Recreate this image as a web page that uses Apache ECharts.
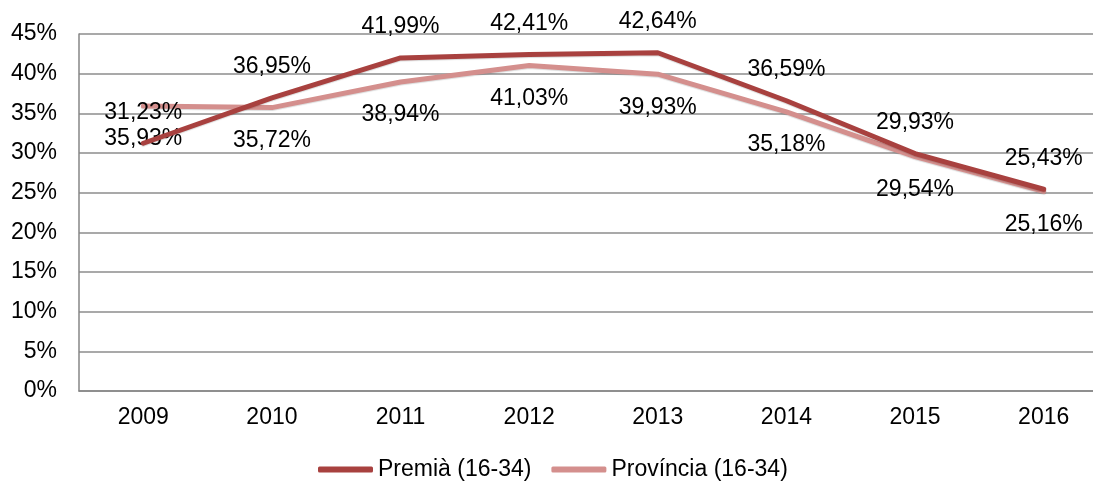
<!DOCTYPE html>
<html>
<head>
<meta charset="utf-8">
<script src="https://cdn.jsdelivr.net/npm/echarts@6/dist/echarts.min.js"></script>
<style>
  html, body { margin: 0; padding: 0; background: #fff; }
  #chart { width: 1093px; height: 481px; }
</style>
</head>
<body>
<div id="chart"></div>
<script>
// anys
const years = ['2009', '2010', '2011', '2012', '2013', '2014', '2015', '2016']
// taxa (%) per sèrie
const premia = [31.23, 36.95, 41.99, 42.41, 42.64, 36.59, 29.93, 25.43]
const provincia = [35.93, 35.72, 38.94, 41.03, 39.93, 35.18, 29.54, 25.16]
const seriesNames = ['Premià (16-34)', 'Província (16-34)']

const fontFamily = '"Liberation Sans", Arial, sans-serif'
const fs = 23
const fmt = v => v.toFixed(2).replace('.', ',') + '%'

const chart = echarts.init(document.getElementById('chart'))

const lineSeries = (name, data, color, pos, dist, z) => ({
  name,
  type: 'line',
  data,
  z,
  symbol: 'circle',
  symbolSize: 1,
  itemStyle: { color },
  lineStyle: {
    color,
    width: 5,
    cap: 'round',
    join: 'round',
    shadowColor: 'rgba(0,0,0,0.15)',
    shadowOffsetY: 1,
    shadowBlur: 1
  },
  label: {
    show: true,
    position: pos,
    distance: dist,
    color: '#000',
    fontSize: fs,
    fontFamily,
    formatter: p => fmt(p.value)
  },
  labelLayout: { hideOverlap: false },
  emphasis: { disabled: true }
})

chart.setOption({
  animation: false,
  grid: { left: 79, top: 34, width: 1029, bottom: 90, outerBoundsMode: 'none', containLabel: false },
  legend: {
    bottom: 0,
    left: 318,
    padding: 0,
    itemWidth: 55,
    itemHeight: 6,
    itemGap: 20,
    icon: 'roundRect',
    textStyle: { color: '#000', fontSize: fs, fontFamily },
    data: seriesNames
  },
  xAxis: {
    type: 'category',
    data: years,
    boundaryGap: true,
    axisLine: { lineStyle: { color: '#868686', width: 1.5 } },
    axisTick: { show: false },
    axisLabel: { color: '#000', fontSize: fs, fontFamily, margin: 15 }
  },
  yAxis: {
    type: 'value',
    min: 0,
    max: 45,
    interval: 5,
    axisLine: { show: true, lineStyle: { color: '#868686', width: 1.5 } },
    axisTick: { show: false },
    splitLine: { lineStyle: { color: '#8c8c8c', width: 1.5 } },
    axisLabel: { color: '#000', fontSize: fs, fontFamily, margin: 22, formatter: v => v + '%' }
  },
  series: [
    lineSeries(seriesNames[0], premia, '#a8413f', 'top', 19, 3),
    lineSeries(seriesNames[1], provincia, '#d48f8d', 'bottom', 21, 2)
  ]
})

window.addEventListener('resize', () => chart.resize())
</script>
</body>
</html>
